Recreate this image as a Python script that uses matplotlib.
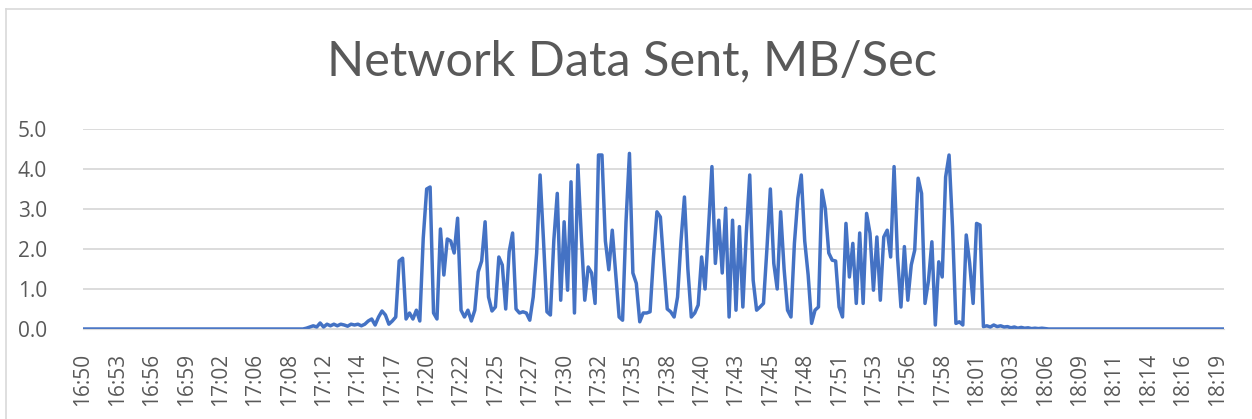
import matplotlib
matplotlib.use("Agg")
from matplotlib import pyplot as plt
from matplotlib.lines import Line2D
import numpy as np

# network sent, MB/s, one sample per slot on a category axis
time_labels = ["16:50", "16:53", "16:56", "16:59", "17:02", "17:06", "17:08", "17:12",
               "17:14", "17:17", "17:20", "17:22", "17:25", "17:27", "17:30", "17:32",
               "17:35", "17:38", "17:40", "17:43", "17:45", "17:48", "17:51", "17:53",
               "17:56", "17:58", "18:01", "18:03", "18:06", "18:09", "18:11", "18:14",
               "18:16", "18:19"]
label_every = 10

idle_start = [0.0] * 65
ramp_up = [0.02, 0.05, 0.08, 0.05, 0.15, 0.05, 0.12, 0.08, 0.12, 0.08,
           0.12, 0.10, 0.07, 0.12, 0.10, 0.12, 0.08, 0.12, 0.20, 0.25,
           0.10, 0.30, 0.45, 0.35, 0.12, 0.20, 0.30]
busy = [1.70, 1.77, 0.25, 0.40, 0.25, 0.47, 0.20, 2.27, 3.50, 3.55,
        0.40, 0.25, 2.50, 1.35, 2.25, 2.20, 1.90, 2.77, 0.47, 0.30,
        0.47, 0.20, 0.47, 1.43, 1.70, 2.68, 0.80, 0.45, 0.55, 1.80,
        1.60, 0.50, 1.93, 2.40, 0.50, 0.40, 0.43, 0.40, 0.22, 0.80,
        1.90, 3.85, 2.20, 0.43, 0.35, 2.22, 3.39, 0.72, 2.68, 0.97,
        3.68, 0.40, 4.10, 2.30, 0.72, 1.55, 1.40, 0.64, 4.35, 4.35,
        2.20, 1.48, 2.47, 1.39, 0.30, 0.22, 2.68, 4.39, 1.40, 1.14,
        0.18, 0.40, 0.40, 0.43, 1.80, 2.93, 2.80, 1.60, 0.50, 0.43,
        0.30, 0.80, 2.20, 3.30, 1.50, 0.30, 0.40, 0.60, 1.80, 1.00,
        2.50, 4.06, 1.64, 2.72, 1.40, 3.02, 0.30, 2.72, 0.47, 2.56,
        0.55, 2.39, 3.85, 1.22, 0.47, 0.55, 0.64, 2.00, 3.50, 1.64,
        1.00, 2.93, 1.50, 0.47, 0.30, 2.14, 3.27, 3.85, 2.20, 1.35,
        0.14, 0.47, 0.55, 3.47, 3.00, 1.90, 1.72, 1.70, 0.55, 0.30,
        2.64, 1.30, 2.14, 0.64, 2.40, 0.64, 2.89, 2.39, 0.97, 2.30,
        0.72, 2.30, 2.47, 1.80, 4.06, 1.80, 0.55, 2.06, 0.72, 1.60,
        1.97, 3.77, 3.39, 0.64, 1.20, 2.18, 0.10, 1.68, 1.30, 3.80,
        4.35, 2.56, 0.14, 0.18, 0.10, 2.35, 1.64, 0.64, 2.64, 2.60]
wind_down = [0.06, 0.08, 0.05, 0.10, 0.06, 0.08, 0.05, 0.06, 0.03, 0.05,
             0.02, 0.04, 0.02, 0.03, 0.01, 0.02, 0.01, 0.02, 0.01]
idle_end = [0.0] * 52

sent_mb = idle_start + ramp_up + busy + wind_down + idle_end

W, H = 1252, 419
fig = plt.figure(figsize=(W / 100, H / 100), dpi=100)
ax = fig.add_axes([83 / W, (H - 329) / H, (1224 - 83) / W, 200 / H])

x = np.arange(len(sent_mb))
ax.plot(x, sent_mb, color="#4472C4", lw=2.5, solid_joinstyle="round")

ax.set_xlim(0, len(sent_mb) - 1)
ax.set_ylim(0, 5)
ax.set_yticks(np.arange(0, 6))
ax.set_yticklabels([f"{v:.1f}" for v in range(6)])
ax.set_xticks(x[::label_every][:len(time_labels)])
ax.set_xticklabels(time_labels, rotation=90)

ax.grid(axis="y", color="#d9d9d9", lw=1.3)
ax.set_axisbelow(True)
for s in ["top", "right", "left"]:
    ax.spines[s].set_visible(False)
ax.spines["bottom"].set_color("#d9d9d9")

tick_font = dict(family="Open Sans", size=15, color="#595959")
for lab in ax.get_xticklabels() + ax.get_yticklabels():
    lab.set_fontfamily(tick_font["family"])
    lab.set_fontsize(tick_font["size"])
    lab.set_color(tick_font["color"])
ax.tick_params(axis="x", length=0, pad=17)
ax.tick_params(axis="y", length=0, pad=26)

fig.text(632 / W, 1 - 61 / H, "Network Data Sent, MB/Sec", ha="center", va="center",
         family="Lato", fontsize=35, color="#595959")

# chart frame (left and top edges visible in the crop)
fig.add_artist(Line2D([6 / W, 6 / W], [0, 1 - 9 / H], color="#d9d9d9", lw=1.2))
fig.add_artist(Line2D([6 / W, 1], [1 - 9 / H, 1 - 9 / H], color="#d9d9d9", lw=1.2))

fig.savefig("out.png", dpi=100)
